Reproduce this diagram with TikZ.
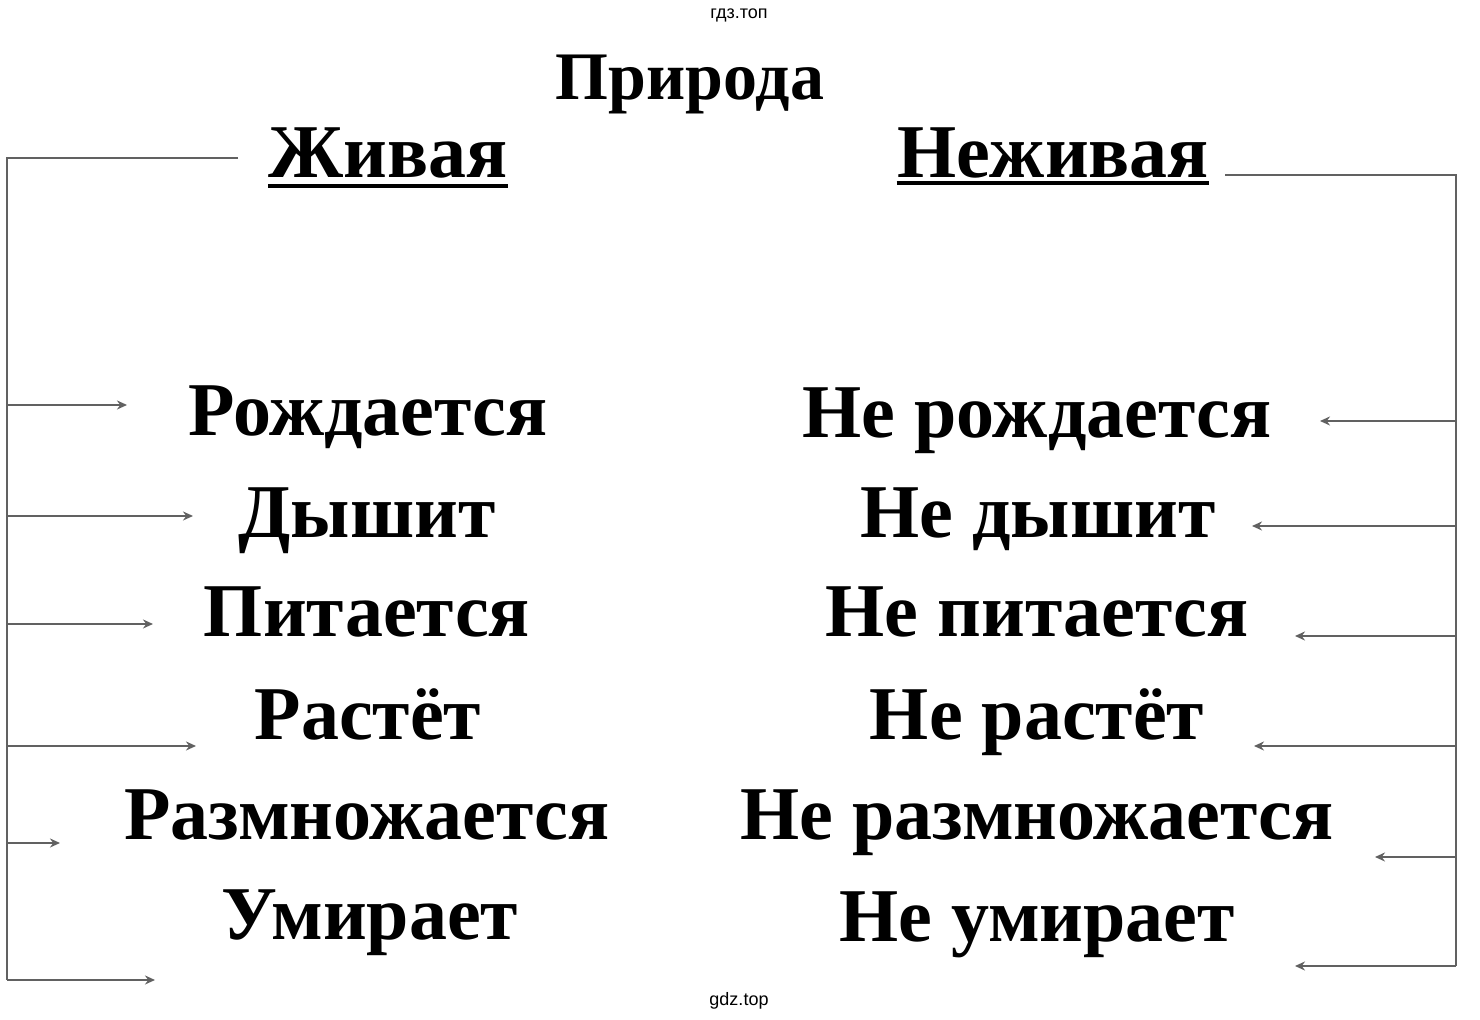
\documentclass[tikz,border=0pt]{standalone}
\usepackage{fontspec}
\setmainfont{Liberation Serif}
\newfontfamily\wmfont{Liberation Sans}
\usetikzlibrary{positioning}
\usetikzlibrary{arrows.meta}
\tikzset{%
  wire/.style = {draw=black!62,line width=1.3pt},
  toarrow/.style = {wire,-{Stealth[length=5pt,width=4.5pt]}},
  big/.style = {font=\bfseries\fontsize{38}{38}\selectfont,
        inner sep=0pt,anchor=base},
  wmark/.style = {font=\wmfont\fontsize{9}{9}\selectfont,
        inner sep=0pt,anchor=base}
}

\begin{document}
\begin{tikzpicture}[x=0.5pt,y=-0.5pt]
   \useasboundingbox[fill=white] (0,0) rectangle (1480,1020);
   \node[wmark] (wm-top) at (739,19) {гдз.топ};
   \node[wmark] (wm-bot) at (739,1006) {gdz.top};

   \node[big,font=\bfseries\fontsize{34}{34}\selectfont] (title) at (690,100) {Природа};
   \node[big] (alive) at (388,178) {Живая};
   \node[big] (dead) at (1053,178) {Неживая};
   \draw[line width=2pt] ([yshift=-4pt]alive.base west) -- ([yshift=-4pt]alive.base east);
   \draw[line width=2pt] ([yshift=-2.5pt]dead.base west) -- ([yshift=-2.5pt]dead.base east);

   % living
   \node[big] (born) at (368,436) {Рождается};
   \node[big] (breathe) at (367,538) {Дышит};
   \node[big] (eat) at (367,637) {Питается};
   \node[big] (grow) at (368,740) {Растёт};
   \node[big] (breed) at (367,840) {Размножается};
   \node[big] (die) at (370,940) {Умирает};

   % non-living
   \node[big] (nborn) at (1037,438) {Не рождается};
   \node[big] (nbreathe) at (1038,538) {Не дышит};
   \node[big] (neat) at (1037,637) {Не питается};
   \node[big] (ngrow) at (1037,740) {Не растёт};
   \node[big] (nbreed) at (1037,840) {Не размножается};
   \node[big] (ndie) at (1037,942) {Не умирает};

   % left bus
   \coordinate (l-top) at (238,158);
   \coordinate (l-corner) at (7,158);
   \coordinate (l-end) at (7,980);
   \coordinate (l1) at (7,405);   \coordinate (t1) at (127,405);
   \coordinate (l2) at (7,516);   \coordinate (t2) at (193,516);
   \coordinate (l3) at (7,624);   \coordinate (t3) at (153,624);
   \coordinate (l4) at (7,746);   \coordinate (t4) at (196,746);
   \coordinate (l5) at (7,843);   \coordinate (t5) at (60,843);
   \coordinate (t6) at (155,980);
   \draw[wire] (l-top) -- (l-corner) -- (l-end);
   \draw[toarrow] (l1) -- (t1);
   \draw[toarrow] (l2) -- (t2);
   \draw[toarrow] (l3) -- (t3);
   \draw[toarrow] (l4) -- (t4);
   \draw[toarrow] (l5) -- (t5);
   \draw[toarrow] (l-end) -- (t6);

   % right bus
   \coordinate (r-top) at (1225,175);
   \coordinate (r-corner) at (1456,175);
   \coordinate (r-end) at (1456,966);
   \coordinate (r1) at (1456,421);   \coordinate (s1) at (1320,421);
   \coordinate (r2) at (1456,526);   \coordinate (s2) at (1252,526);
   \coordinate (r3) at (1456,636);   \coordinate (s3) at (1295,636);
   \coordinate (r4) at (1456,746);   \coordinate (s4) at (1254,746);
   \coordinate (r5) at (1456,857);   \coordinate (s5) at (1375,857);
   \coordinate (s6) at (1295,966);
   \draw[wire] (r-top) -- (r-corner) -- (r-end);
   \draw[toarrow] (r1) -- (s1);
   \draw[toarrow] (r2) -- (s2);
   \draw[toarrow] (r3) -- (s3);
   \draw[toarrow] (r4) -- (s4);
   \draw[toarrow] (r5) -- (s5);
   \draw[toarrow] (r-end) -- (s6);
\end{tikzpicture}
\end{document}
